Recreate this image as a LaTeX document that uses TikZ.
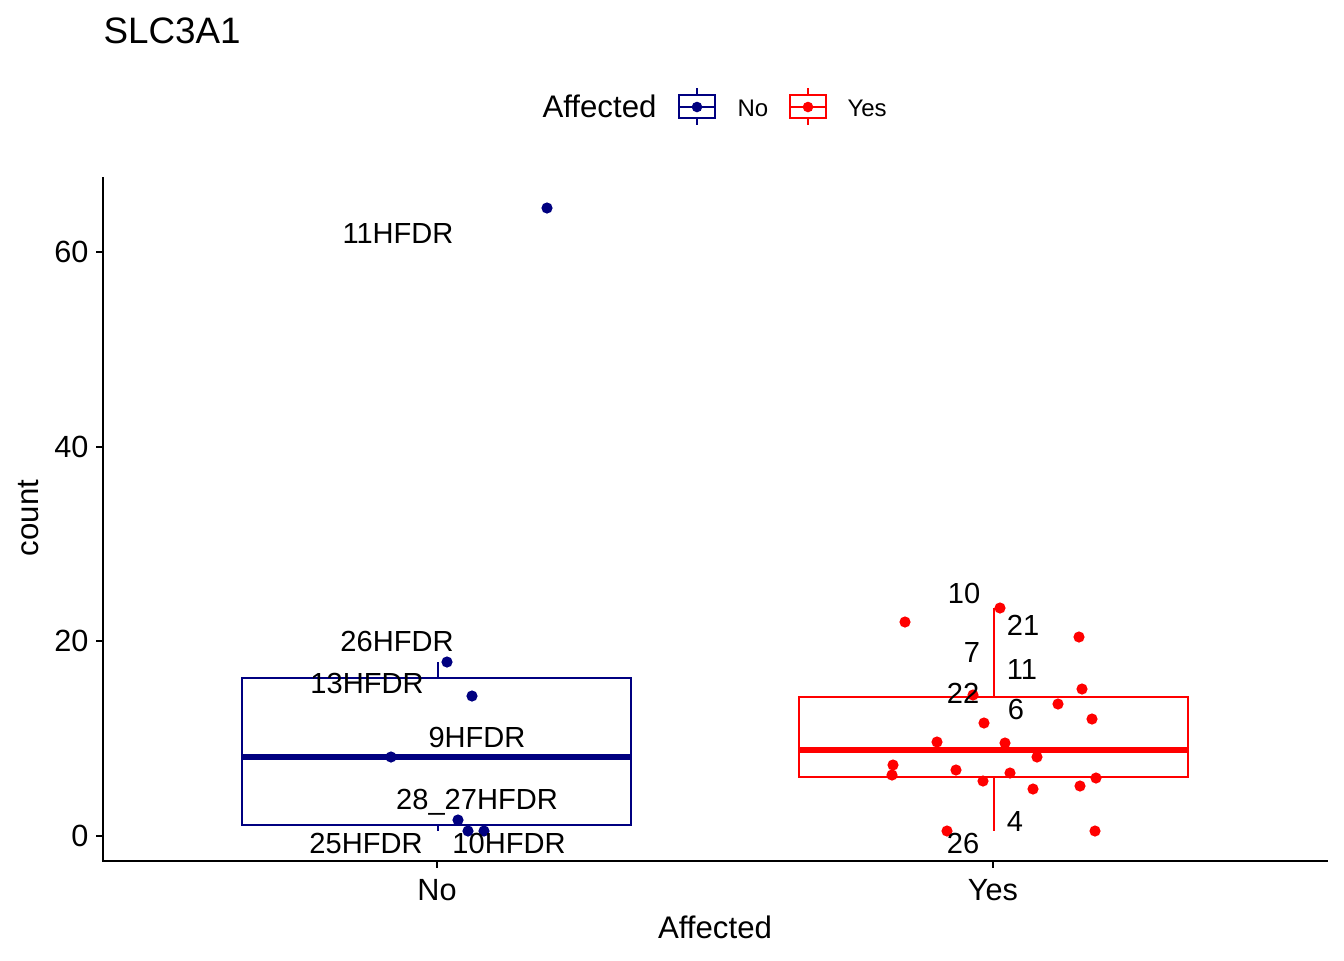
\documentclass[tikz,border=0pt]{standalone}
\usepackage{fontspec}
\setmainfont{Liberation Sans}
\definecolor{navyc}{RGB}{0,0,128}
\definecolor{redc}{RGB}{255,0,0}
\begin{document}
\begin{tikzpicture}[x=0.375pt,y=-0.375pt,
  lbl/.style={anchor=base,inner sep=0pt,font=\fontsize{10.9}{12}\selectfont},
  ticklbl/.style={inner sep=0pt,font=\fontsize{11.5}{13}\selectfont},
  axtitle/.style={inner sep=0pt,font=\fontsize{11.7}{13}\selectfont},
  legtxt/.style={anchor=base west,inner sep=0pt,font=\fontsize{9}{11}\selectfont},
  boxline/.style={line width=0.85pt},
  medline/.style={line width=1.9pt},
  axisline/.style={line width=1pt,black},
  ndot/.style={fill=navyc},
  ydot/.style={fill=redc}]
\useasboundingbox[fill=white] (0,0) rectangle (1344,960);
% title
\node[anchor=base west,inner sep=0pt,font=\fontsize{13.8}{15}\selectfont] (title) at (103,43) {SLC3A1};
% legend
\node[anchor=base west,axtitle] (legtitle) at (542,117) {Affected};
\begin{scope}[navyc,boxline]
\draw (679,95) rectangle (715,118);
\draw (679,107) -- (715,107);
\draw (697,88) -- (697,95) (697,118) -- (697,125);
\fill (697,107) circle (5.3);
\end{scope}
\node[legtxt] (legno) at (737,116) {No};
\begin{scope}[redc,boxline]
\draw (790,95) rectangle (826,118);
\draw (790,107) -- (826,107);
\draw (808,88) -- (808,95) (808,118) -- (808,125);
\fill (808,107) circle (5.3);
\end{scope}
\node[legtxt] (legyes) at (847,116) {Yes};
% axes
\coordinate (ytop) at (103,178);
\coordinate (origin) at (103,861);
\coordinate (xright) at (1327,861);
\draw[axisline,line cap=rect] (ytop) -- (origin) -- (xright);
\foreach \v/\yy in {0/836,20/641,40/447,60/252}{
  \draw[axisline] (96,\yy) -- (103,\yy);
  \node[ticklbl,anchor=base east] (yt\v) at (89,\yy+10.5) {\v};
}
\foreach \nm/\xx in {No/437,Yes/993}{
  \draw[axisline] (\xx,861) -- (\xx,868);
  \node[ticklbl,anchor=base] (xt\nm) at (\xx,900) {\nm};
}
\node[axtitle,anchor=base] (xtitle) at (715,938) {Affected};
\node[axtitle,anchor=base,rotate=90] (ytitle) at (38,518) {count};
% No box
\begin{scope}[navyc]
\draw[boxline] (242,678) rectangle (631,825);
\draw[boxline] (438,662) -- (438,678) (438,825) -- (438,831);
\draw[medline] (242,757) -- (631,757);
\foreach \px/\py in {547/208,447/662,472/696,391/757,458/820,468/831,484/831}
  \fill[ndot] (\px,\py) circle (5.6);
\end{scope}
% Yes box
\begin{scope}[redc]
\draw[boxline] (799,697) rectangle (1188,777);
\draw[boxline] (994,608) -- (994,697) (994,777) -- (994,831);
\draw[medline] (799,750) -- (1188,750);
\foreach \px/\py in {1000/608,905/622,1079/637,1082/689,973/695,1058/704,1092/719,984/723,937/742,1005/743,1037/757,893/765,892/775,956/770,1010/773,983/781,1033/789,1080/786,1096/778,947/831,1095/831}
  \fill[ydot] (\px,\py) circle (5.6);
\end{scope}
% labels No
\node[lbl] (l11) at (398,243) {11HFDR};
\node[lbl] (l26) at (397,651) {26HFDR};
\node[lbl] (l13) at (367,693) {13HFDR};
\node[lbl] (l9) at (477,747) {9HFDR};
\node[lbl] (l28) at (477,809) {28\_27HFDR};
\node[lbl] (l25) at (366,853) {25HFDR};
\node[lbl] (l10) at (509,853) {10HFDR};
% labels Yes
\node[lbl] (y10) at (964,603) {10};
\node[lbl] (y21) at (1023,635) {21};
\node[lbl] (y7) at (972,662) {7};
\node[lbl] (y11) at (1022,679) {11};
\node[lbl] (y22) at (963,703) {22};
\node[lbl] (y6) at (1016,719) {6};
\node[lbl] (y4) at (1015,831) {4};
\node[lbl] (y26) at (963,853) {26};
\end{tikzpicture}
\end{document}
